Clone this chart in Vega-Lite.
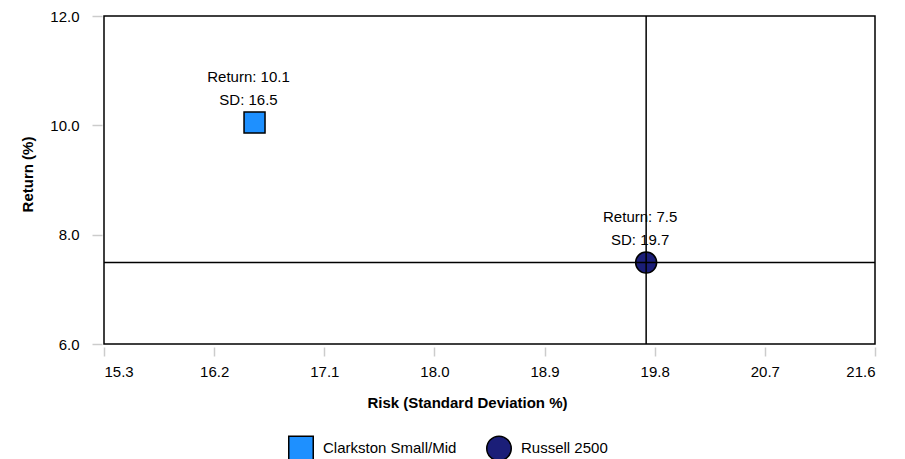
{
  "$schema": "https://vega.github.io/schema/vega-lite/v6.json",
  "autosize": "none",
  "width": 771,
  "height": 328,
  "padding": {"left": 104, "top": 16, "right": 30, "bottom": 115},
  "background": "white",
  "config": {
    "font": "Liberation Sans",
    "view": {"stroke": "black", "strokeWidth": 1.5},
    "axis": {"grid": false, "domain": false, "tickColor": "#cccccc", "tickWidth": 1.5, "labelFontSize": 15, "labelColor": "#000000", "titleFontSize": 15, "titleFontWeight": "bold", "titleColor": "#000000", "labelFont": "Liberation Sans", "titleFont": "Liberation Sans"}
  },
  "data": {
    "values": [
      {"series": "Clarkston Small/Mid", "sd": 16.53, "ret": 10.05, "label1": "Return: 10.1", "label2": "SD: 16.5"},
      {"series": "Russell 2500", "sd": 19.73, "ret": 7.49, "label1": "Return: 7.5", "label2": "SD: 19.7"}
    ]
  },
  "layer": [
    {
      "mark": {"type": "point", "filled": true, "size": 441, "stroke": "black", "strokeWidth": 1.5, "opacity": 1, "strokeOpacity": 1},
      "encoding": {
        "x": {"field": "sd", "type": "quantitative", "scale": {"domain": [15.3, 21.6], "nice": false, "zero": false},
          "axis": {"values": [15.3, 16.2, 17.1, 18.0, 18.9, 19.8, 20.7, 21.6], "format": ".1f", "title": "Risk (Standard Deviation %)", "offset": 3, "tickSize": 9, "labelPadding": 8, "titlePadding": 16, "titleX": 363, "titleAnchor": "middle"}},
        "y": {"field": "ret", "type": "quantitative", "scale": {"domain": [6, 12], "nice": false, "zero": false},
          "axis": {"values": [6, 8, 10, 12], "format": ".1f", "title": "Return (%)", "offset": 2, "tickSize": 10, "labelPadding": 13, "titlePadding": 14, "titleY": 158}},
        "color": {"field": "series", "type": "nominal", "scale": {"domain": ["Clarkston Small/Mid", "Russell 2500"], "range": ["#1E90FF", "#1B1E78"]},
          "legend": {"title": null, "orient": "none", "direction": "horizontal", "legendX": 184, "legendY": 419, "symbolSize": 600, "symbolStrokeColor": "black", "symbolStrokeWidth": 1.5, "symbolOpacity": 1, "labelFontSize": 15, "labelColor": "#000000", "labelOffset": 9, "columnPadding": 26, "labelFont": "Liberation Sans"}},
        "shape": {"field": "series", "type": "nominal", "scale": {"domain": ["Clarkston Small/Mid", "Russell 2500"], "range": ["square", "circle"]}, "legend": null}
      }
    },
    {
      "mark": {"type": "text", "fontSize": 15, "baseline": "alphabetic", "align": "center", "dy": -41, "dx": -6, "color": "black"},
      "encoding": {
        "x": {"field": "sd", "type": "quantitative"},
        "y": {"field": "ret", "type": "quantitative"},
        "text": {"field": "label1"}
      }
    },
    {
      "mark": {"type": "text", "fontSize": 15, "baseline": "alphabetic", "align": "center", "dy": -18, "dx": -6, "color": "black"},
      "encoding": {
        "x": {"field": "sd", "type": "quantitative"},
        "y": {"field": "ret", "type": "quantitative"},
        "text": {"field": "label2"}
      }
    },
    {
      "transform": [{"filter": "datum.series === 'Russell 2500'"}],
      "mark": {"type": "rule", "color": "black", "strokeWidth": 1.5},
      "encoding": {"x": {"field": "sd", "type": "quantitative"}}
    },
    {
      "transform": [{"filter": "datum.series === 'Russell 2500'"}],
      "mark": {"type": "rule", "color": "black", "strokeWidth": 1.5},
      "encoding": {"y": {"field": "ret", "type": "quantitative"}}
    }
  ]
}
